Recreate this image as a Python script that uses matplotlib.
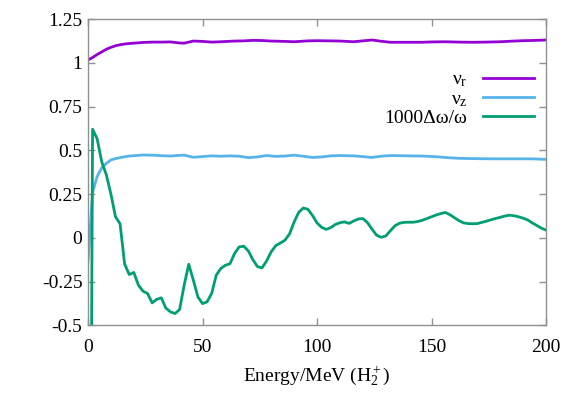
import numpy as np
import matplotlib
matplotlib.use("Agg")
import matplotlib.pyplot as plt

# ---- data ----
E_green = list(range(0, 202, 2))
dw = [-4.7, 0.62, 0.565, 0.434, 0.36, 0.25, 0.12, 0.08, -0.15, -0.21,
      -0.198, -0.27, -0.305, -0.318, -0.372, -0.352, -0.343, -0.402, -0.423, -0.433,
      -0.41, -0.27, -0.151, -0.242, -0.338, -0.376, -0.366, -0.318, -0.214, -0.175,
      -0.157, -0.148, -0.09, -0.052, -0.048, -0.075, -0.125, -0.165, -0.172, -0.132,
      -0.08, -0.045, -0.03, -0.014, 0.022, 0.09, 0.145, 0.17, 0.163, 0.128,
      0.085, 0.06, 0.048, 0.058, 0.076, 0.086, 0.091, 0.082, 0.096, 0.107,
      0.11, 0.087, 0.05, 0.015, 0.003, 0.01, 0.04, 0.068, 0.083, 0.088,
      0.089, 0.089, 0.093, 0.1, 0.11, 0.12, 0.13, 0.138, 0.145, 0.132,
      0.115, 0.098, 0.085, 0.081, 0.08, 0.081, 0.088, 0.095, 0.103, 0.11,
      0.117, 0.124, 0.129, 0.126, 0.12, 0.112, 0.102, 0.085, 0.07, 0.055,
      0.044]

E_r = [0, 2, 4, 6, 8, 10, 12, 14, 16, 18, 20, 24, 28, 32, 36, 40, 42, 46, 50, 54,
       58, 64, 68, 72, 76, 80, 86, 90, 96, 100, 106, 110, 116, 120, 124, 128, 132,
       140, 146, 150, 156, 162, 168, 174, 180, 186, 190, 196, 200]
nu_r = [1.016, 1.03, 1.047, 1.062, 1.077, 1.088, 1.097, 1.103, 1.107, 1.11, 1.112,
        1.116, 1.118, 1.118, 1.119, 1.113, 1.112, 1.124, 1.122, 1.118, 1.12, 1.124,
        1.125, 1.128, 1.127, 1.124, 1.122, 1.12, 1.125, 1.126, 1.125, 1.124, 1.12,
        1.125, 1.13, 1.123, 1.117, 1.117, 1.117, 1.119, 1.12, 1.118, 1.117, 1.118,
        1.12, 1.124, 1.126, 1.128, 1.13]

E_z = [0, 2, 4, 6, 8, 10, 12, 14, 16, 18, 20, 24, 28, 32, 36, 40, 42, 46, 50, 54,
       58, 62, 66, 70, 74, 78, 82, 86, 90, 94, 98, 102, 106, 110, 116, 120, 124, 128,
       132, 140, 146, 152, 158, 162, 170, 178, 186, 194, 200]
nu_z = [-0.138, 0.26, 0.35, 0.40, 0.425, 0.445, 0.452, 0.458, 0.463, 0.467, 0.469,
        0.473, 0.472, 0.469, 0.467, 0.471, 0.472, 0.46, 0.464, 0.468, 0.466, 0.468,
        0.466, 0.458, 0.462, 0.47, 0.465, 0.467, 0.472, 0.466, 0.459, 0.462, 0.468,
        0.47, 0.468, 0.464, 0.459, 0.466, 0.47, 0.468, 0.467, 0.463, 0.457, 0.454,
        0.452, 0.451, 0.451, 0.451, 0.448]

x_ticks = [0, 50, 100, 150, 200]
y_ticks = [-0.5, -0.25, 0, 0.25, 0.5, 0.75, 1, 1.25]
y_labels = ["-0.5", "-0.25", "0", "0.25", "0.5", "0.75", "1", "1.25"]

plt.rcParams['font.family'] = ['Liberation Serif', 'DejaVu Serif']
plt.rcParams['mathtext.fontset'] = 'custom'
plt.rcParams['mathtext.rm'] = 'Liberation Serif'
plt.rcParams['mathtext.it'] = 'Liberation Serif:italic'

fs = 14
fig = plt.figure(figsize=(5.81, 4.07), dpi=100)
ax = fig.add_axes([88/581, 1-325.3/407, (546-88)/581, (325.3-19)/407])

lw = 2.0
ax.plot(E_r, nu_r, color='#9400D3', lw=lw, label='ν$_\\mathrm{r}$')
ax.plot(E_z, nu_z, color='#56B4E9', lw=lw, label='ν$_\\mathrm{z}$')
ax.plot(E_green, dw, color='#009E73', lw=lw, label='1000Δω/ω')

ax.set_xlim(0, 200)
ax.set_ylim(-0.5, 1.25)
ax.set_xticks(x_ticks)
ax.set_xticklabels([str(v) for v in x_ticks])
ax.set_yticks(y_ticks)
ax.set_yticklabels(y_labels)

grey = '#909090'
for s in ax.spines.values():
    s.set_color(grey)
    s.set_linewidth(1.0)
ax.tick_params(direction='in', length=5, width=1, color=grey, labelsize=fs,
               top=True, right=True)
ax.tick_params(axis='x', pad=10)
ax.tick_params(axis='y', pad=4)

ax.set_xlabel('Energy/MeV (H$_2^+$)', fontsize=fs, labelpad=6)

leg = ax.legend(loc='upper right', bbox_to_anchor=(534/581, 1-71/407),
                bbox_transform=fig.transFigure, frameon=False, markerfirst=False,
                fontsize=fs, handlelength=2.6, handletextpad=0.82, labelspacing=0.05,
                borderpad=0, borderaxespad=0)

fig.savefig('out.png', dpi=100)
